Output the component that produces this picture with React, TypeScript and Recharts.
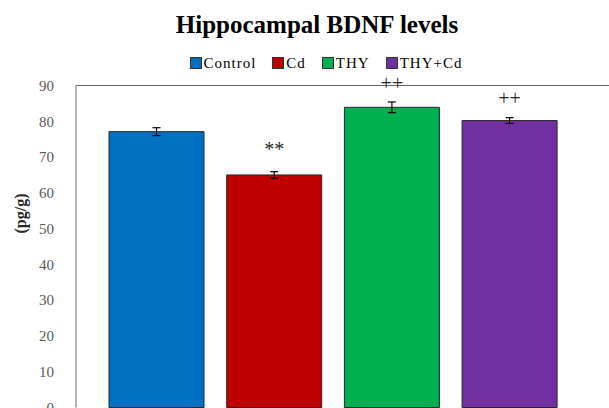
import { Bar, BarChart, CartesianGrid, ErrorBar, LabelList, XAxis, YAxis } from "recharts";

const categories = ["Hippocampus"];
const seriesNames = ["Control", "Cd", "THY", "THY+Cd"];
const seriesValues = [77.1, 65.0, 83.9, 80.2];
const seriesErrors = [1.1, 0.9, 1.5, 0.8];
const seriesNotes = ["", "**", "++", "++"];
const yTicks = [0, 10, 20, 30, 40, 50, 60, 70, 80, 90];

const colors = ["#0070C0", "#C00000", "#00B050", "#7030A0"];
const noteOffsets = [10, 19, 17, 16];
const serif = "'Liberation Serif', 'Times New Roman', serif";

const data = categories.map((name) => {
  const row: Record<string, string | number> = { name };
  seriesNames.forEach((s, i) => {
    row[s] = seriesValues[i];
    row[`${s}_err`] = seriesErrors[i];
    row[`${s}_note`] = seriesNotes[i];
  });
  return row;
});

function YLabel(props: any) {
  const { viewBox } = props;
  const x = 20;
  const y = viewBox.y + viewBox.height / 2 - 33;
  return (
    <text
      x={x}
      y={y}
      transform={`rotate(-90, ${x}, ${y})`}
      textAnchor="middle"
      dominantBaseline="central"
      fontFamily={serif}
      fontWeight="bold"
      fontSize={16}
      fill="#262626"
    >
      (pg/g)
    </text>
  );
}

export default function App() {
  return (
    <div
      style={{
        position: "fixed",
        left: 0,
        top: 0,
        width: 609,
        height: 408,
        overflow: "hidden",
        background: "#fff",
      }}
    >
      <div
        style={{
          position: "absolute",
          left: 0,
          top: 11,
          width: 634,
          textAlign: "center",
          fontFamily: serif,
          fontWeight: "bold",
          fontSize: 25,
          lineHeight: "28px",
          color: "#000",
        }}
      >
        Hippocampal BDNF levels
      </div>
      <div
        style={{
          position: "absolute",
          left: 0,
          top: 54,
          width: 652,
          display: "flex",
          justifyContent: "center",
          gap: 16,
          fontFamily: serif,
          fontSize: 15,
          letterSpacing: 1,
          lineHeight: "18px",
          color: "#000",
        }}
      >
        {seriesNames.map((s, i) => (
          <span key={s} style={{ display: "flex", alignItems: "center", gap: 2 }}>
            <span
              style={{
                display: "inline-block",
                width: 10,
                height: 10,
                background: colors[i],
                border: "1px solid #333",
              }}
            />
            {s}
          </span>
        ))}
      </div>
      <BarChart
        width={660}
        height={440}
        data={data}
        margin={{ top: 85.5, right: 20, left: 0, bottom: 32.5 }}
        barSize={95}
        barGap={22.7}
      >
        <CartesianGrid vertical={false} horizontalValues={[90]} stroke="#666" strokeWidth={1} />
        <XAxis
          dataKey="name"
          tick={false}
          tickLine={false}
          height={0}
          stroke="#666"
          padding={{ left: 0, right: 49 }}
        />
        <YAxis
          width={76}
          domain={[0, 90]}
          ticks={yTicks}
          tickLine={false}
          stroke="#666"
          tickMargin={16}
          tick={{ fill: "#595959", fontSize: 15, fontFamily: serif }}
          label={<YLabel />}
        />
        {seriesNames.map((s, i) => (
          <Bar
            key={s}
            dataKey={s}
            name={s}
            fill={colors[i]}
            stroke="#262626"
            strokeWidth={1}
            isAnimationActive={false}
          >
            <ErrorBar dataKey={`${s}_err`} width={4} stroke="#000" strokeWidth={1.2} />
            <LabelList
              dataKey={`${s}_note`}
              position="top"
              offset={noteOffsets[i]}
              fontFamily={serif}
              fontSize={20}
              fill="#262626"
            />
          </Bar>
        ))}
      </BarChart>
    </div>
  );
}
